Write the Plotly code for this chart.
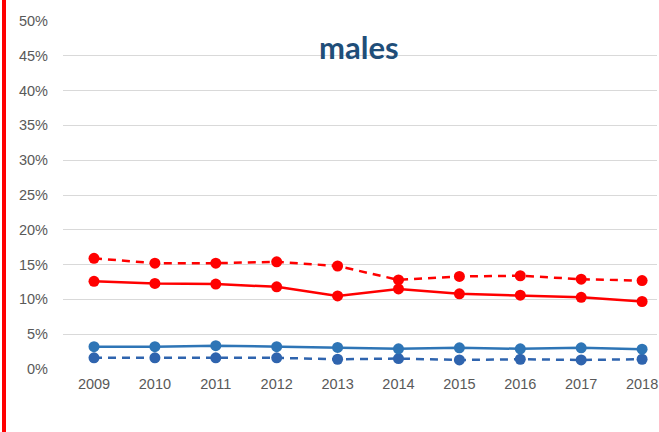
import plotly.graph_objects as go

years = ["2009", "2010", "2011", "2012", "2013", "2014", "2015", "2016", "2017", "2018"]
red_dashed = [0.159, 0.152, 0.152, 0.154, 0.148, 0.128, 0.133, 0.134, 0.129, 0.127]
red_solid = [0.126, 0.123, 0.122, 0.118, 0.105, 0.115, 0.108, 0.106, 0.103, 0.097]
blue_solid = [0.032, 0.032, 0.0335, 0.032, 0.031, 0.029, 0.0305, 0.029, 0.0305, 0.0285]
blue_dashed = [0.016, 0.016, 0.016, 0.016, 0.014, 0.015, 0.013, 0.014, 0.013, 0.014]
y_ticks = [0, 0.05, 0.10, 0.15, 0.20, 0.25, 0.30, 0.35, 0.40, 0.45, 0.50]
y_tick_text = ["0%", "5%", "10%", "15%", "20%", "25%", "30%", "35%", "40%", "45%", "50%"]

RED = "#FF0000"
BLUE = "#2E75B6"
BLUE_D = "#2F64AE"

fig = go.Figure()

def add(vals, color, dash, name):
    fig.add_trace(go.Scatter(
        x=years, y=vals, name=name, mode="lines+markers",
        line=dict(color=color, width=2.5, dash=dash),
        marker=dict(color=color, size=11, symbol="circle"),
        cliponaxis=False,
    ))

add(blue_dashed, BLUE_D, "8px,6px", "blue dashed")
add(blue_solid, BLUE, "solid", "blue solid")
add(red_dashed, RED, "8px,6px", "red dashed")
add(red_solid, RED, "solid", "red solid")

W, H = 659, 432
ml, mr, mt, mb = 63, 2, 21, 63
pw, ph = W - ml - mr, H - mt - mb

def px_x(p):
    return (p - ml) / pw

def px_y(p):
    return (H - mb - p) / ph

fig.add_shape(type="rect", xref="paper", yref="paper",
              x0=px_x(2), x1=px_x(6), y0=px_y(432), y1=px_y(0),
              fillcolor=RED, line=dict(width=0), layer="above")

fig.add_annotation(text="<b>males</b>", xref="paper", yref="paper",
                   x=px_x(359), y=px_y(47), showarrow=False,
                   xanchor="center", yanchor="middle",
                   font=dict(family="Lato", size=31, color="#1F4E79"))

fig.update_layout(
    width=W, height=H,
    margin=dict(l=ml, r=mr, t=mt, b=mb),
    paper_bgcolor="white", plot_bgcolor="white",
    showlegend=False,
    font=dict(family="Liberation Sans", size=14, color="#595959"),
    xaxis=dict(type="category", range=[-0.509, 9.245], showgrid=False,
               showline=False, zeroline=False, ticks="",
               tickfont=dict(size=14.5, color="#595959"), ticklabelstandoff=4),
    yaxis=dict(range=[0, 0.5], tickvals=y_ticks, ticktext=y_tick_text,
               showgrid=True, gridcolor="#D9D9D9", gridwidth=1.3,
               zeroline=False, showline=False, ticks="",
               tickfont=dict(size=14.5, color="#595959"), ticklabelstandoff=14),
)

fig.write_html("out.html", config={"displayModeBar": False},
               post_script="document.body.style.margin='0';document.body.style.overflow='hidden';")
